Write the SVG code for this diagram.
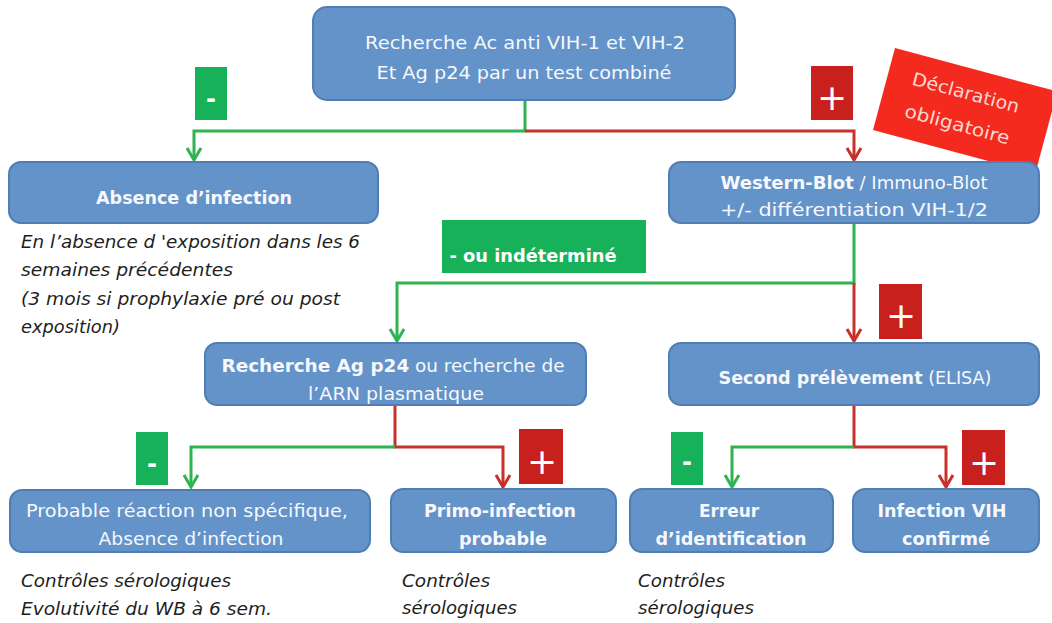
<svg xmlns="http://www.w3.org/2000/svg" width="1052" height="623" viewBox="0 0 1052 623">
<style>
.box{fill:#6393c9;stroke:#4f7db4;stroke-width:2}
.bt{font-family:"DejaVu Sans",sans-serif;font-size:18px;fill:#f6f8fc;text-anchor:middle}
.b{font-weight:bold}
.it{font-family:"DejaVu Sans",sans-serif;font-style:italic;font-size:17px;fill:#1e1e1e}
.g{stroke:#2eb350;stroke-width:3;fill:none}
.r{stroke:#c8302a;stroke-width:3;fill:none}
.lg{fill:#17b15a}
.lr{fill:#c8201c}
.sym{font-family:"DejaVu Sans",sans-serif;fill:#ffffff;text-anchor:middle}
</style>
<defs>
<marker id="ag" markerUnits="userSpaceOnUse" orient="auto" refX="0" refY="0" markerWidth="20" markerHeight="20" overflow="visible"><path d="M-12,-7 L0,0 L-12,7" fill="none" stroke="#2eb350" stroke-width="3"/></marker>
<marker id="ar" markerUnits="userSpaceOnUse" orient="auto" refX="0" refY="0" markerWidth="20" markerHeight="20" overflow="visible"><path d="M-12,-7 L0,0 L-12,7" fill="none" stroke="#c8302a" stroke-width="3"/></marker>
</defs>
<rect width="1052" height="623" fill="#ffffff"/>

<g id="connectors">
<path class="g" d="M525,100 V131 H194 V160" marker-end="url(#ag)"/>
<path class="r" d="M525,131 H854 V160" marker-end="url(#ar)"/>
<path class="g" d="M854,223 V283 H397 V341" marker-end="url(#ag)"/>
<path class="r" d="M854,283 V341" marker-end="url(#ar)"/>
<path class="r" d="M395,405 V447 H503 V487" marker-end="url(#ar)"/>
<path class="g" d="M395,447 H191 V487" marker-end="url(#ag)"/>
<path class="r" d="M854,405 V447 H946 V487" marker-end="url(#ar)"/>
<path class="g" d="M854,447 H732 V487" marker-end="url(#ag)"/>
</g>

<g id="labels">
<rect class="lg" x="195" y="67" width="32" height="53"/><text class="sym b" x="211" y="107" font-size="24">-</text>
<rect class="lr" x="811" y="66" width="42" height="54"/><text class="sym" x="832" y="110" font-size="36">+</text>
<rect class="lg" x="442" y="220" width="204" height="53"/><text class="sym b" x="533" y="262" font-size="17" textLength="167" lengthAdjust="spacingAndGlyphs">- ou indéterminé</text>
<rect class="lr" x="879" y="284" width="43" height="55"/><text class="sym" x="901" y="328" font-size="36">+</text>
<rect class="lg" x="136" y="432" width="32" height="53"/><text class="sym b" x="152" y="472" font-size="24">-</text>
<rect class="lr" x="519" y="429" width="44" height="55"/><text class="sym" x="542" y="474" font-size="36">+</text>
<rect class="lg" x="671" y="432" width="32" height="53"/><text class="sym b" x="687" y="470" font-size="24">-</text>
<rect class="lr" x="962" y="430" width="43" height="55"/><text class="sym" x="984" y="475" font-size="36">+</text>
</g>

<g id="declaration" transform="translate(895,48) rotate(15)">
<rect x="0" y="0" width="168" height="85" fill="#f42a1e"/>
<text x="80" y="31" font-family="DejaVu Sans,sans-serif" font-size="18" fill="#fcd8d2" text-anchor="middle" textLength="110" lengthAdjust="spacingAndGlyphs">Déclaration</text>
<text x="80" y="64" font-family="DejaVu Sans,sans-serif" font-size="18" fill="#fcd8d2" text-anchor="middle" textLength="108" lengthAdjust="spacingAndGlyphs">obligatoire</text>
</g>

<g id="n-top">
<rect class="box" x="313" y="7" width="422" height="93" rx="14"/>
<text class="bt" x="525" y="49" textLength="320" lengthAdjust="spacingAndGlyphs">Recherche Ac anti VIH-1 et VIH-2</text>
<text class="bt" x="524" y="79" textLength="295" lengthAdjust="spacingAndGlyphs">Et Ag p24 par un test combiné</text>
</g>

<g id="n-absence">
<rect class="box" x="9" y="162" width="369" height="61" rx="12"/>
<text class="bt b" x="194" y="204" textLength="196" lengthAdjust="spacingAndGlyphs">Absence d’infection</text>
</g>

<g id="n-absence-note">
<text class="it" x="21" y="248" textLength="339" lengthAdjust="spacingAndGlyphs">En l’absence d 'exposition dans les 6</text>
<text class="it" x="21" y="276" textLength="212" lengthAdjust="spacingAndGlyphs">semaines précédentes</text>
<text class="it" x="21" y="305" textLength="319" lengthAdjust="spacingAndGlyphs">(3 mois si prophylaxie pré ou post</text>
<text class="it" x="21" y="333" textLength="99" lengthAdjust="spacingAndGlyphs">exposition)</text>
</g>

<g id="n-western">
<rect class="box" x="669" y="162" width="370" height="61" rx="12"/>
<text class="bt" x="854" y="189" textLength="267" lengthAdjust="spacingAndGlyphs"><tspan class="b">Western-Blot</tspan> / Immuno-Blot</text>
<text class="bt" x="854" y="216" textLength="268" lengthAdjust="spacingAndGlyphs">+/- différentiation VIH-1/2</text>
</g>

<g id="n-recherche-p24">
<rect class="box" x="205" y="343" width="381" height="62" rx="12"/>
<text class="bt" x="393" y="372" textLength="343" lengthAdjust="spacingAndGlyphs"><tspan class="b">Recherche Ag p24</tspan> ou recherche de</text>
<text class="bt" x="396" y="400" textLength="176" lengthAdjust="spacingAndGlyphs">l’ARN plasmatique</text>
</g>

<g id="n-second">
<rect class="box" x="669" y="343" width="370" height="62" rx="12"/>
<text class="bt" x="855" y="384" textLength="273" lengthAdjust="spacingAndGlyphs"><tspan class="b">Second prélèvement</tspan> (ELISA)</text>
</g>

<g id="n-probable">
<rect class="box" x="10" y="490" width="360" height="62" rx="12"/>
<text class="bt" x="187" y="517" textLength="322" lengthAdjust="spacingAndGlyphs">Probable réaction non spécifique,</text>
<text class="bt" x="191" y="545" textLength="185" lengthAdjust="spacingAndGlyphs">Absence d’infection</text>
</g>

<g id="n-primo">
<rect class="box" x="391" y="489" width="225" height="63" rx="12"/>
<text class="bt b" x="500" y="517" textLength="152" lengthAdjust="spacingAndGlyphs">Primo-infection</text>
<text class="bt b" x="503" y="545" textLength="88" lengthAdjust="spacingAndGlyphs">probable</text>
</g>

<g id="n-erreur">
<rect class="box" x="630" y="489" width="203" height="63" rx="12"/>
<text class="bt b" x="729" y="517" textLength="60" lengthAdjust="spacingAndGlyphs">Erreur</text>
<text class="bt b" x="731" y="545" textLength="151" lengthAdjust="spacingAndGlyphs">d’identification</text>
</g>

<g id="n-infection">
<rect class="box" x="853" y="489" width="186" height="63" rx="12"/>
<text class="bt b" x="942" y="517" textLength="129" lengthAdjust="spacingAndGlyphs">Infection VIH</text>
<text class="bt b" x="946" y="545" textLength="88" lengthAdjust="spacingAndGlyphs">confirmé</text>
</g>

<g id="notes-bottom">
<text class="it" x="21" y="587" textLength="210" lengthAdjust="spacingAndGlyphs">Contrôles sérologiques</text>
<text class="it" x="21" y="615" textLength="251" lengthAdjust="spacingAndGlyphs">Evolutivité du WB à 6 sem.</text>
<text class="it" x="402" y="587" textLength="88" lengthAdjust="spacingAndGlyphs">Contrôles</text>
<text class="it" x="402" y="614" textLength="115" lengthAdjust="spacingAndGlyphs">sérologiques</text>
<text class="it" x="638" y="587" textLength="87" lengthAdjust="spacingAndGlyphs">Contrôles</text>
<text class="it" x="638" y="614" textLength="116" lengthAdjust="spacingAndGlyphs">sérologiques</text>
</g>
</svg>
